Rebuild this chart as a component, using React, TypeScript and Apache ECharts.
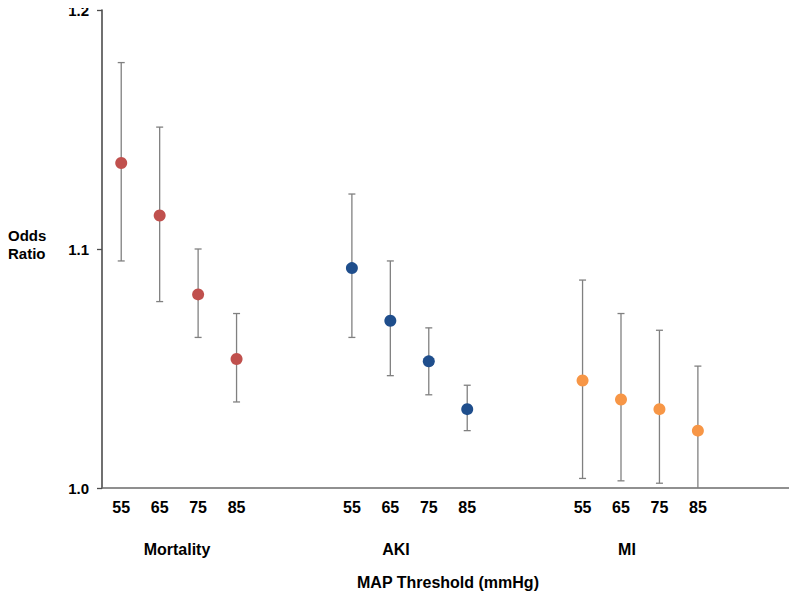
import React, { useEffect, useRef } from "react";
import * as echarts from "echarts";

const thresholds = ["55", "65", "75", "85"];
const groups = ["Mortality", "AKI", "MI"];
const groupColors = ["#C0504D", "#1F4E8C", "#F79646"];

const mortalityOR = [1.136, 1.114, 1.081, 1.054];
const mortalityUpper = [1.178, 1.151, 1.1, 1.073];
const mortalityLower = [1.095, 1.078, 1.063, 1.036];

const akiOR = [1.092, 1.07, 1.053, 1.033];
const akiUpper = [1.123, 1.095, 1.067, 1.043];
const akiLower = [1.063, 1.047, 1.039, 1.024];

const miOR = [1.045, 1.037, 1.033, 1.024];
const miUpper = [1.087, 1.073, 1.066, 1.051];
const miLower = [1.004, 1.003, 1.002, 0.997];

const yTicks = [1.0, 1.1, 1.2];
const groupLabelX = [177, 396, 627];

const FONT = "'Liberation Sans', Arial, sans-serif";

export default function App() {
  const ref = useRef<HTMLDivElement>(null);
  useEffect(() => {
    if (!ref.current) return;
    const chart = echarts.init(ref.current, undefined, { renderer: "svg" });

    const categories: string[] = [];
    groups.forEach(() => {
      thresholds.forEach((t) => categories.push(t));
      categories.push("");
      categories.push("");
    });

    const ors = [mortalityOR, akiOR, miOR];
    const ups = [mortalityUpper, akiUpper, miUpper];
    const lows = [mortalityLower, akiLower, miLower];

    const errData: number[][] = [];
    const series: any[] = [];
    groups.forEach((g, gi) => {
      const pts = ors[gi].map((v, i) => [gi * 6 + i, v]);
      ors[gi].forEach((_, i) => errData.push([gi * 6 + i, ups[gi][i], lows[gi][i]]));
      series.push({
        name: g,
        type: "scatter",
        data: pts,
        symbol: "circle",
        symbolSize: 12,
        itemStyle: { color: groupColors[gi], opacity: 1 },
        z: 5,
      });
    });

    series.unshift({
      type: "custom",
      data: errData,
      z: 2,
      renderItem: (params: any, api: any) => {
        const x = api.value(0);
        const hi = api.value(1);
        const lo = api.value(2);
        const top = api.coord([x, hi]);
        const bot = api.coord([x, lo]);
        const cs = params.coordSys;
        const yMax = cs.y + cs.height;
        let by = bot[1];
        let capBot = true;
        if (by > yMax) {
          by = yMax;
          capBot = false;
        }
        const style = { stroke: "#808080", lineWidth: 1.3 };
        const half = 3.5;
        const children: any[] = [
          { type: "line", shape: { x1: top[0], y1: top[1], x2: top[0], y2: by }, style },
          { type: "line", shape: { x1: top[0] - half, y1: top[1], x2: top[0] + half, y2: top[1] }, style },
        ];
        if (capBot) {
          children.push({ type: "line", shape: { x1: top[0] - half, y1: by, x2: top[0] + half, y2: by }, style });
        }
        return { type: "group", children };
      },
    });

    chart.setOption({
      animation: false,
      backgroundColor: "#ffffff",
      grid: { left: 102, right: 3, top: 10, bottom: 111, containLabel: false },
      xAxis: {
        type: "category",
        data: categories,
        boundaryGap: true,
        axisLine: { lineStyle: { color: "#6b6b6b", width: 1.5 } },
        axisTick: { show: false },
        axisLabel: {
          interval: 0,
          color: "#000",
          fontFamily: FONT,
          fontWeight: "bold",
          fontSize: 16,
          margin: 11,
        },
        name: "MAP Threshold (mmHg)",
        nameLocation: "middle",
        nameGap: 86,
        nameTextStyle: { color: "#000", fontFamily: FONT, fontWeight: "bold", fontSize: 16 },
      },
      yAxis: {
        type: "value",
        min: yTicks[0],
        max: yTicks[yTicks.length - 1],
        interval: 0.1,
        axisLine: { show: true, lineStyle: { color: "#4d4d4d", width: 1.6 } },
        axisTick: { show: true, length: 5, lineStyle: { color: "#4d4d4d", width: 1.3 } },
        splitLine: { show: false },
        axisLabel: {
          color: "#000",
          fontFamily: FONT,
          fontWeight: "bold",
          fontSize: 15,
          margin: 13,
          formatter: (v: number) => v.toFixed(1),
        },
      },
      graphic: [
        {
          type: "text",
          left: 8,
          top: 226,
          style: {
            text: "Odds\nRatio",
            fill: "#000",
            font: `bold 15px ${FONT}`,
            align: "center",
            lineHeight: 18,
          },
        },
        ...groups.map((g, gi) => ({
          type: "text",
          x: groupLabelX[gi],
          y: 549,
          style: {
            text: g,
            fill: "#000",
            font: `bold 16px ${FONT}`,
            align: "center",
            verticalAlign: "middle",
          },
        })),
      ],
      series,
    });

    return () => chart.dispose();
  }, []);

  return <div ref={ref} style={{ width: 797, height: 599, margin: -8 }} />;
}
